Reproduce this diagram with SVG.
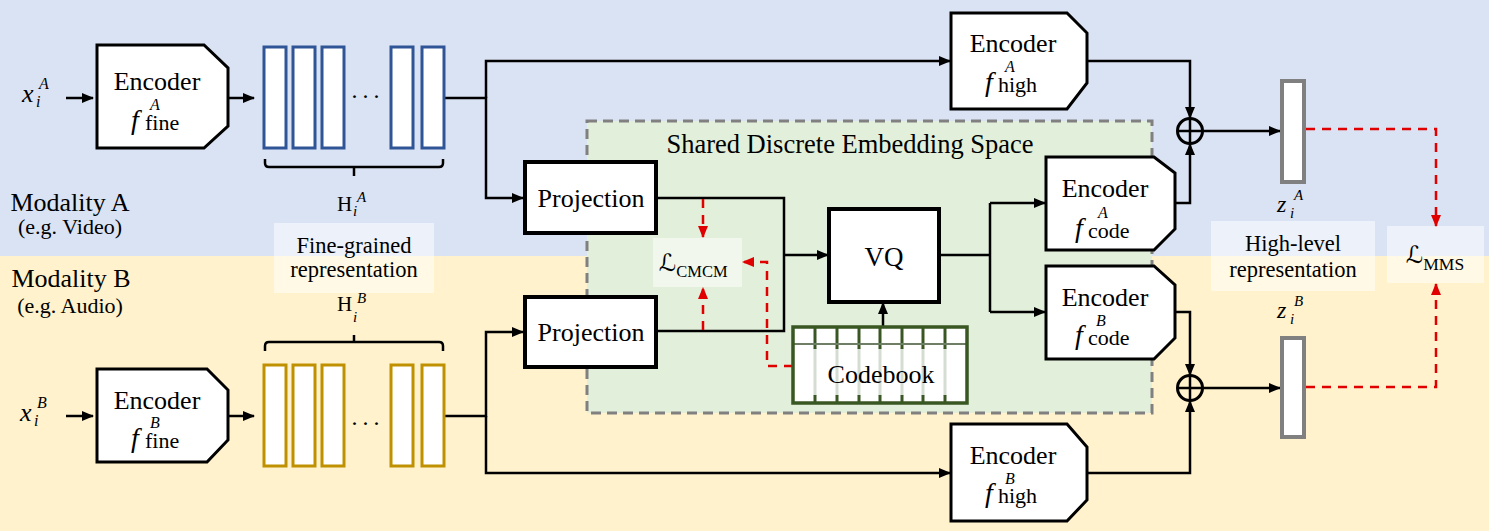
<svg xmlns="http://www.w3.org/2000/svg" width="1489" height="531" viewBox="0 0 1489 531" font-family="'Liberation Serif', 'Times New Roman', serif">
<style>
text{font-family:"Liberation Serif","Times New Roman",serif;fill:#000}
.t26{font-size:26px}
.mid{text-anchor:middle}
.it{font-style:italic}
.sup{font-size:16px;font-style:italic}
.sub{font-size:22px;font-style:normal}
.fn{font-size:28px;font-style:italic}
.enc{fill:#fff;stroke:#000;stroke-width:3;stroke-linejoin:miter}
.box4{fill:#fff;stroke:#000;stroke-width:4}
.ln{fill:none;stroke:#000;stroke-width:2.5}
.red{fill:none;stroke:#E00000;stroke-width:2.5;stroke-dasharray:9 7}
.barA{fill:#fff;stroke:#2F5597;stroke-width:3}
.barB{fill:#fff;stroke:#BF9000;stroke-width:3}
.barZ{fill:#fff;stroke:#808080;stroke-width:4}
.lbl{fill:#fff;fill-opacity:0.5}
.scr{font-family:"DejaVu Serif","DejaVu Sans",serif;font-size:24px}
.dots{font-size:24px;letter-spacing:3px;text-anchor:middle}
</style>
<defs>
<marker id="ah" viewBox="0 0 12 10" refX="11" refY="5" markerWidth="12" markerHeight="10" markerUnits="userSpaceOnUse" orient="auto"><path d="M0,0 L12,5 L0,10 z" fill="#000"/></marker>
<marker id="ahr" viewBox="0 0 12 10" refX="11" refY="5" markerWidth="12" markerHeight="10" markerUnits="userSpaceOnUse" orient="auto"><path d="M0,0 L12,5 L0,10 z" fill="#E00000"/></marker>
</defs>
<rect x="0" y="0" width="1489" height="256" fill="#DAE3F3"/>
<rect x="0" y="256" width="1489" height="275" fill="#FFF2CC"/>
<g id="shared-space">
<rect x="587" y="121" width="565" height="292" fill="#E2EFDA" stroke="#808080" stroke-width="3" stroke-dasharray="10 6"/>
<text class="mid" x="850" y="153" font-size="26.5">Shared Discrete Embedding Space</text>
</g>
<g id="modality-labels">
<text class="mid" x="70" y="211" font-size="26">Modality A</text>
<text class="mid" x="70" y="234" font-size="22">(e.g. Video)</text>
<text class="mid" x="71" y="287" font-size="26">Modality B</text>
<text class="mid" x="70" y="313" font-size="22">(e.g. Audio)</text>
</g>
<g id="fine-label">
<rect class="lbl" x="274" y="223" width="160" height="70"/>
<text class="mid" x="354" y="253" font-size="22.5">Fine-grained</text>
<text class="mid" x="354" y="277" font-size="22.5">representation</text>
</g>
<g id="high-label">
<rect class="lbl" x="1211" y="221" width="164" height="70"/>
<text class="mid" x="1293" y="251" font-size="22.5">High-level</text>
<text class="mid" x="1293" y="277" font-size="22.5">representation</text>
</g>
<g id="loss-cmcm">
<rect class="lbl" x="653" y="238" width="89" height="49"/>
<text x="659" y="271"><tspan class="scr">ℒ</tspan><tspan font-size="16.5" dy="6">CMCM</tspan></text>
</g>
<g id="loss-mms">
<rect class="lbl" x="1387" y="226" width="97" height="57"/>
<text x="1406" y="263"><tspan class="scr">ℒ</tspan><tspan font-size="17.5" dy="7">MMS</tspan></text>
</g>
<g id="connectors">
<path class="ln" d="M66,98 H93" marker-end="url(#ah)"/>
<path class="ln" d="M228,98 H254" marker-end="url(#ah)"/>
<path class="ln" d="M66,416 H93" marker-end="url(#ah)"/>
<path class="ln" d="M228,416 H254" marker-end="url(#ah)"/>
<path class="ln" d="M445,98 H486 V198 H523" marker-end="url(#ah)"/>
<path class="ln" d="M486,98 V61 H950" marker-end="url(#ah)"/>
<path class="ln" d="M445,416 H486 V332 H523" marker-end="url(#ah)"/>
<path class="ln" d="M486,416 V473 H950" marker-end="url(#ah)"/>
<path class="ln" d="M656,198 H784 V331 H656"/>
<path class="ln" d="M784,255 H828" marker-end="url(#ah)"/>
<path class="ln" d="M883,327 V303" marker-end="url(#ah)"/>
<path class="ln" d="M939,255 H990"/>
<path class="ln" d="M990,203 V312"/>
<path class="ln" d="M990,203 H1045" marker-end="url(#ah)"/>
<path class="ln" d="M990,312 H1045" marker-end="url(#ah)"/>
<path class="ln" d="M1087,61 H1190 V118" marker-end="url(#ah)"/>
<path class="ln" d="M1175,203 H1190 V144" marker-end="url(#ah)"/>
<path class="ln" d="M1175,312 H1190 V375" marker-end="url(#ah)"/>
<path class="ln" d="M1087,473 H1190 V401" marker-end="url(#ah)"/>
<path class="ln" d="M1203,131 H1280" marker-end="url(#ah)"/>
<path class="ln" d="M1203,388 H1280" marker-end="url(#ah)"/>
<path class="red" d="M703,199 V237" marker-end="url(#ahr)"/>
<path class="red" d="M703,330 V288" marker-end="url(#ahr)"/>
<path class="red" d="M793,366 H767 V262 H743" marker-end="url(#ahr)"/>
<path class="red" d="M1306,129 H1436 V226" marker-end="url(#ahr)"/>
<path class="red" d="M1306,387 H1436 V284" marker-end="url(#ahr)"/>
</g>
<g id="input-a">
<text class="it"><tspan x="22" y="102" font-size="26">x</tspan><tspan x="36" y="107" font-size="16">i</tspan><tspan x="39" y="89" font-size="16">A</tspan></text>
</g>
<g id="input-b">
<text class="it"><tspan x="20" y="421" font-size="26">x</tspan><tspan x="34" y="426" font-size="16">i</tspan><tspan x="37" y="408" font-size="16">B</tspan></text>
</g>
<g id="enc-fine-a">
<path class="enc" d="M97,45 H204 L228,68 V126 L204,148 H97 Z"/>
<text class="t26 mid" x="157" y="90">Encoder</text>
<text><tspan class="fn" x="131" y="129">f</tspan><tspan class="sup" x="150" y="110">A</tspan><tspan class="sub" x="145" y="130">fine</tspan></text>
</g>
<g id="enc-fine-b">
<path class="enc" d="M97,369 H207 L228,390 V440 L207,462 H97 Z"/>
<text class="t26 mid" x="157" y="409">Encoder</text>
<text><tspan class="fn" x="131" y="447">f</tspan><tspan class="sup" x="150" y="428">B</tspan><tspan class="sub" x="145" y="448">fine</tspan></text>
</g>
<g id="h-a">
<rect class="barA" x="264" y="47" width="22" height="101"/>
<rect class="barA" x="293" y="47" width="22" height="101"/>
<rect class="barA" x="322" y="47" width="22" height="101"/>
<rect class="barA" x="391" y="47" width="22" height="101"/>
<rect class="barA" x="422" y="47" width="22" height="101"/>
<text class="dots" x="367" y="104">···</text>
<path class="ln" stroke-width="3" d="M265,159 V163 Q265,167 269,167 H439 Q443,167 443,163 V159 M354,167 V176"/>
<text><tspan x="337" y="211" font-size="21">H</tspan><tspan class="it" x="353" y="216" font-size="15">i</tspan><tspan class="it" x="357" y="202" font-size="15">A</tspan></text>
</g>
<g id="h-b">
<rect class="barB" x="264" y="365" width="22" height="101"/>
<rect class="barB" x="293" y="365" width="22" height="101"/>
<rect class="barB" x="322" y="365" width="22" height="101"/>
<rect class="barB" x="391" y="365" width="22" height="101"/>
<rect class="barB" x="422" y="365" width="22" height="101"/>
<text class="dots" x="367" y="431">···</text>
<path class="ln" stroke-width="3" d="M265,351 V346 Q265,342 269,342 H439 Q443,342 443,346 V351 M354,342 V335"/>
<text><tspan x="337" y="311" font-size="21">H</tspan><tspan class="it" x="353" y="322" font-size="15">i</tspan><tspan class="it" x="357" y="303" font-size="15">B</tspan></text>
</g>
<g id="proj-a">
<rect class="box4" x="525" y="162" width="131" height="71"/>
<text class="t26 mid" x="591" y="207">Projection</text>
</g>
<g id="proj-b">
<rect class="box4" x="525" y="297" width="131" height="70"/>
<text class="t26 mid" x="591" y="341">Projection</text>
</g>
<g id="vq">
<rect class="box4" x="829" y="209" width="110" height="93"/>
<text class="mid" x="884" y="266" font-size="27">VQ</text>
</g>
<g id="codebook">
<rect x="793" y="327" width="174" height="76" fill="#fff"/>
<g stroke="#D5DDD2" stroke-width="3">
<path d="M815,348 V396 M837,348 V396 M859,348 V396 M880,348 V396 M902,348 V396 M923,348 V396 M945,348 V396"/>
</g>
<g stroke="#385723" stroke-width="3">
<path d="M815,327 V349 M837,327 V349 M859,327 V349 M880,327 V349 M902,327 V349 M923,327 V349 M945,327 V349"/>
<path d="M815,395 V403 M837,395 V403 M859,395 V403 M880,395 V403 M902,395 V403 M923,395 V403 M945,395 V403"/>
</g>
<path d="M794,344 H966" stroke="#6E7F66" stroke-width="2"/>
<rect x="793" y="327" width="174" height="76" fill="none" stroke="#385723" stroke-width="3.5"/>
<text class="mid" x="881" y="383" font-size="26">Codebook</text>
</g>
<g id="enc-high-a">
<path class="enc" d="M951,13 H1067 L1087,33 V83 L1067,109 H951 Z"/>
<text class="t26 mid" x="1013" y="52">Encoder</text>
<text><tspan class="fn" x="985" y="91">f</tspan><tspan class="sup" x="1005" y="72">A</tspan><tspan class="sub" x="998" y="92">high</tspan></text>
</g>
<g id="enc-high-b">
<path class="enc" d="M951,424 H1067 L1087,447 V500 L1067,521 H951 Z"/>
<text class="t26 mid" x="1013" y="464">Encoder</text>
<text><tspan class="fn" x="985" y="502">f</tspan><tspan class="sup" x="1005" y="484">B</tspan><tspan class="sub" x="998" y="503">high</tspan></text>
</g>
<g id="enc-code-a">
<path class="enc" d="M1046,157 H1154 L1175,173 V229 L1154,250 H1046 Z"/>
<text class="t26 mid" x="1105" y="197">Encoder</text>
<text><tspan class="fn" x="1075" y="237">f</tspan><tspan class="sup" x="1098" y="218">A</tspan><tspan class="sub" x="1088" y="238">code</tspan></text>
</g>
<g id="enc-code-b">
<path class="enc" d="M1046,266 H1154 L1175,285 V338 L1154,359 H1046 Z"/>
<text class="t26 mid" x="1105" y="306">Encoder</text>
<text><tspan class="fn" x="1075" y="344">f</tspan><tspan class="sup" x="1096" y="326">B</tspan><tspan class="sub" x="1088" y="345">code</tspan></text>
</g>
<g id="sum-a">
<circle cx="1190" cy="131" r="12.5" fill="none" stroke="#000" stroke-width="3"/>
<path d="M1177.5,131 H1202.5 M1190,118.5 V143.5" stroke="#000" stroke-width="2.5"/>
</g>
<g id="sum-b">
<circle cx="1190" cy="388" r="12.5" fill="none" stroke="#000" stroke-width="3"/>
<path d="M1177.5,388 H1202.5 M1190,375.5 V400.5" stroke="#000" stroke-width="2.5"/>
</g>
<g id="z-a">
<rect class="barZ" x="1282" y="81" width="22" height="101"/>
<text class="it"><tspan x="1277" y="212" font-size="24">z</tspan><tspan x="1290" y="218" font-size="15">i</tspan><tspan x="1294" y="200" font-size="15">A</tspan></text>
</g>
<g id="z-b">
<rect class="barZ" x="1282" y="338" width="22" height="99"/>
<text class="it"><tspan x="1277" y="318" font-size="24">z</tspan><tspan x="1290" y="324" font-size="15">i</tspan><tspan x="1294" y="306" font-size="15">B</tspan></text>
</g>
</svg>
